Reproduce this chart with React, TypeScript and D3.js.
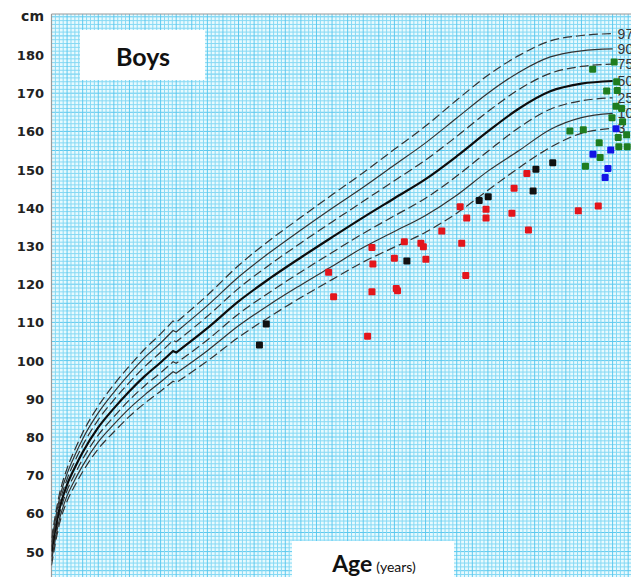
import React from 'react';
import * as d3 from 'd3';

const W = 631;
const H = 577;

const yTickValues = [50, 60, 70, 80, 90, 100, 110, 120, 130, 140, 150, 160, 170, 180];

// ages of the reference curve knots; a small jog (length → height) near 4 years
const ages = [0, 0.25, 0.5, 0.75, 1, 1.5, 2, 2.5, 3, 3.5, 3.9, 4, 5, 6, 7, 8, 9, 10, 11, 12, 13, 14, 15, 16, 17, 18];
const jogIndex = 11; // first knot after the jog
const p3 = [46.4, 57.1, 63.2, 67.3, 70.9, 76.9, 81.3, 85.4, 88.9, 92.0, 94.6, 94.2, 99.9, 106.1, 111.5, 116.5, 121.2, 125.8, 129.7, 133.6, 138.6, 144.6, 150.5, 155.8, 159.5, 160.8];
const p10 = [47.6, 58.3, 64.6, 68.8, 72.5, 78.7, 83.3, 87.5, 91.1, 94.4, 97.1, 96.7, 102.6, 109.1, 114.7, 119.8, 124.7, 129.6, 133.8, 138.0, 143.3, 149.6, 155.0, 160.5, 163.6, 164.7];
const p25 = [48.7, 59.6, 66.0, 70.3, 74.2, 80.5, 85.3, 89.7, 93.5, 96.8, 99.7, 99.3, 105.4, 112.2, 117.9, 123.2, 128.3, 133.3, 137.9, 142.5, 148.3, 154.8, 161.0, 165.8, 168.0, 168.8];
const p50 = [50, 61, 67.5, 72, 76, 82.5, 87.5, 92, 96, 99.5, 102.5, 102.1, 108.5, 115.5, 121.5, 127, 132.3, 137.5, 142.5, 147.5, 153.5, 160, 166, 170.5, 172.5, 173.2];
const p75 = [51.3, 62.4, 69.0, 73.7, 77.8, 84.5, 89.7, 94.3, 98.5, 102.2, 105.3, 104.9, 111.6, 118.9, 125.1, 130.8, 136.3, 141.7, 147.1, 152.5, 158.7, 165.2, 171.0, 175.2, 177.0, 177.6];
const p90 = [52.4, 63.7, 70.4, 75.2, 79.5, 86.3, 91.7, 96.5, 100.9, 104.6, 107.9, 107.5, 114.4, 121.9, 128.3, 134.2, 139.9, 145.4, 151.2, 157.0, 163.5, 170.0, 175.5, 179.5, 181.1, 181.6];
const p97 = [53.6, 64.9, 71.8, 76.7, 81.1, 88.1, 93.7, 98.6, 103.1, 107.0, 110.4, 110.0, 117.1, 124.9, 131.5, 137.5, 143.4, 149.2, 155.3, 161.4, 168.2, 174.7, 179.9, 183.7, 185.1, 185.6];

const percentileLabels = ['3', '10', '25', '50', '75', '90', '97'];
const percentileSeries = [p3, p10, p25, p50, p75, p90, p97];
const percentileDashed = [true, false, true, false, true, false, true];

const blackAges = [6.67, 6.89, 11.40, 13.72, 14.01, 15.45, 15.54, 16.08];
const blackHeights = [104.1, 109.6, 126.1, 141.9, 142.9, 144.4, 150.1, 151.8];

const redAges = [8.89, 9.05, 10.28, 10.31, 10.28, 10.14, 11.00, 11.06, 11.10, 11.32, 11.85, 11.93, 12.01, 12.52, 13.11, 13.16, 13.29, 13.32, 13.94, 13.94, 14.77, 14.84, 15.25, 15.30, 16.90, 17.54];
const redHeights = [123.1, 116.7, 129.6, 125.3, 118.0, 106.4, 126.8, 118.9, 118.3, 131.1, 130.7, 129.8, 126.5, 133.9, 140.3, 130.7, 122.3, 137.3, 139.6, 137.3, 138.6, 145.1, 149.0, 134.2, 139.2, 140.5];

const greenAges = [17.36, 18.05, 17.81, 18.15, 18.13, 18.11, 18.29, 17.98, 18.32, 16.63, 17.06, 17.57, 18.18, 18.45, 18.20, 18.47, 17.60, 17.13];
const greenHeights = [176.3, 178.2, 170.6, 170.7, 173.0, 166.6, 166.0, 163.6, 162.5, 160.1, 160.4, 157.0, 158.4, 159.1, 156.0, 156.0, 153.2, 150.9];

const blueAges = [18.11, 17.94, 17.37, 17.85, 17.76];
const blueHeights = [160.7, 155.1, 154.0, 150.3, 147.9];

const pointGroups = [
  { color: '#e3161c', ages: redAges, heights: redHeights },
  { color: '#111111', ages: blackAges, heights: blackHeights },
  { color: '#1f7d1f', ages: greenAges, heights: greenHeights },
  { color: '#1414e6', ages: blueAges, heights: blueHeights },
];

export default function App() {
  const plotLeft = 51.5;
  const plotTop = 14;
  const x = d3.scaleLinear().domain([0, 18]).range([plotLeft, 612.6]);
  const y = d3.scaleLinear().domain([50, 180]).range([551.6, 55]);

  const cmMin = Math.ceil(y.invert(H));
  const cmMax = Math.floor(y.invert(plotTop));
  const hLines = d3.range(cmMin, cmMax + 1);
  const ageMax = x.invert(W);
  const vLines = d3.range(0, ageMax, 0.125);

  const line = d3
    .line<[number, number]>()
    .x((d) => x(d[0]))
    .y((d) => y(d[1]))
    .curve(d3.curveMonotoneX);

  const pathFor = (s: number[]) => {
    const pts: [number, number][] = ages.map((a, i) => [a, s[i]]);
    const a = line(pts.slice(0, jogIndex)) || '';
    const b = (line(pts.slice(jogIndex)) || '').replace(/^M/, 'L');
    return a + b;
  };

  const sq = 7;
  const tickFont = "'DejaVu Sans', Verdana, sans-serif";

  return (
    <svg
      width={W}
      height={H}
      style={{ position: 'absolute', left: 0, top: 0, display: 'block', background: '#ffffff' }}
    >
      <defs>
        <clipPath id="plotClip">
          <rect x={plotLeft} y={plotTop} width={W - plotLeft} height={H - plotTop} />
        </clipPath>
      </defs>
      <rect x={plotLeft} y={plotTop} width={W - plotLeft} height={H - plotTop} fill="#e8fafe" />
      <g clipPath="url(#plotClip)">
        {hLines.map((v) => (
          <line
            key={'h' + v}
            x1={plotLeft}
            x2={W}
            y1={y(v)}
            y2={y(v)}
            stroke={v % 5 === 0 ? '#5cc9ef' : '#86d9f4'}
            strokeWidth={1}
          />
        ))}
        {vLines.map((a, i) => (
          <line
            key={'v' + i}
            x1={x(a)}
            x2={x(a)}
            y1={plotTop}
            y2={H}
            stroke={i % 4 === 0 ? '#5cc9ef' : '#86d9f4'}
            strokeWidth={1}
          />
        ))}
      </g>
      <line x1={plotLeft} x2={W} y1={plotTop} y2={plotTop} stroke="#9a9a9a" strokeWidth={1.2} />
      <line x1={plotLeft} x2={plotLeft} y1={plotTop} y2={H} stroke="#9a9a9a" strokeWidth={1.2} />

      <rect x={80} y={30} width={125} height={50} fill="#ffffff" />
      <text x={143} y={66} textAnchor="middle" fontFamily="Lato, 'Open Sans', sans-serif" fontWeight={700} fontSize={25} fill="#111">
        Boys
      </text>

      <g clipPath="url(#plotClip)">
        {percentileSeries.map((s, k) => (
          <path
            key={'p' + k}
            d={pathFor(s)}
            fill="none"
            stroke={k === 3 ? '#0d0d0d' : '#333333'}
            strokeWidth={k === 3 ? 2.2 : 1.2}
            strokeDasharray={percentileDashed[k] ? '9 4' : undefined}
          />
        ))}
        {percentileSeries.map((s, k) => (
          <text
            key={'pl' + k}
            x={x(18) + 5}
            y={y(s[s.length - 1]) + 5}
            fontFamily="'Liberation Sans', Arial, sans-serif"
            fontSize={14}
            fill="#333"
          >
            {percentileLabels[k]}
          </text>
        ))}
        {pointGroups.map((g, gi) =>
          g.ages.map((a, i) => (
            <rect
              key={'pt' + gi + '-' + i}
              x={x(a) - sq / 2}
              y={y(g.heights[i]) - sq / 2}
              width={sq}
              height={sq}
              rx={1.2}
              fill={g.color}
            />
          ))
        )}
      </g>

      {yTickValues.map((v) => (
        <text
          key={'yt' + v}
          x={44}
          y={y(v) + 5}
          textAnchor="end"
          fontFamily={tickFont}
          fontWeight={700}
          fontSize={13}
          fill="#222"
        >
          {v}
        </text>
      ))}
      <text x={44} y={21} textAnchor="end" fontFamily={tickFont} fontWeight={700} fontSize={14} fill="#222">
        cm
      </text>

      <rect x={292} y={541} width={162} height={36} fill="#ffffff" />
      <text x={374} y={572} textAnchor="middle" fontFamily="Lato, 'Open Sans', sans-serif" fill="#111">
        <tspan fontWeight={700} fontSize={23}>Age</tspan>
        <tspan fontSize={14} dx={4}>(years)</tspan>
      </text>
    </svg>
  );
}
